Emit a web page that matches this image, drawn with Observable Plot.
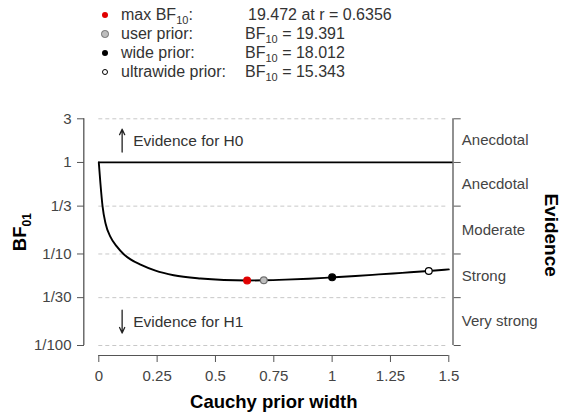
<!DOCTYPE html>
<html><head><meta charset="utf-8">
<script src="https://cdn.jsdelivr.net/npm/d3@7"></script>
<script src="https://cdn.jsdelivr.net/npm/@observablehq/plot@0.6"></script>
<style>
body{margin:0;background:#fff;font-family:"Liberation Sans",Arial,sans-serif;}
#legend{position:relative;width:564px;height:90px;color:#333;font-size:16px;}
#legend .row{position:absolute;left:0;height:20px;width:564px;}
#legend .dot{position:absolute;border-radius:50%;box-sizing:border-box;}
#legend .lab{position:absolute;left:121px;top:0;line-height:20px;white-space:nowrap;}
#legend .val{position:absolute;left:246px;top:0;line-height:20px;white-space:nowrap;}
#legend sub{font-size:11px;vertical-align:-4px;line-height:0;}
</style>
</head><body>
<div id="legend"></div>
<div id="chart"></div>
<script>
// Robustness curve (Cauchy prior width r vs BF01)
const priorWidth = [0, 0.007, 0.016, 0.029, 0.05, 0.076, 0.107, 0.136, 0.179, 0.243, 0.321, 0.436, 0.536, 0.6356, 0.7071, 0.8, 0.9, 1.0, 1.1, 1.2, 1.3, 1.4142, 1.5];
const bf01 = [1, 0.589, 0.333, 0.2154, 0.1538, 0.1217, 0.0995, 0.0873, 0.0764, 0.0657, 0.0586, 0.054, 0.052, 0.05136, 0.05157, 0.0524, 0.0537, 0.05552, 0.0575, 0.0598, 0.0622, 0.06518, 0.0678];

// Highlighted priors
const keyNames = ["max BF10:", "user prior:", "wide prior:", "ultrawide prior:"];
const keyR = [0.6356, 0.7071, 1, 1.4142];
const keyBF10 = [19.472, 19.391, 18.012, 15.343];
const keyText = ["19.472 at r = 0.6356", "BF10 = 19.391", "BF10 = 18.012", "BF10 = 15.343"];
const keyFill = ["#e00000", "#bdbdbd", "#000000", "#ffffff"];
const keyStroke = ["#e00000", "#707070", "#000000", "#000000"];

// Axes
const xTicks = [0, 0.25, 0.5, 0.75, 1, 1.25, 1.5];
const xTickLabels = ["0", "0.25", "0.5", "0.75", "1", "1.25", "1.5"];
const yTicks = [3, 1, 1/3, 1/10, 1/30, 1/100];
const yTickLabels = ["3", "1", "1/3", "1/10", "1/30", "1/100"];
const evidenceLabels = ["Anecdotal", "Anecdotal", "Moderate", "Strong", "Very strong"];
const directionLabels = ["Evidence for H0", "Evidence for H1"];

const curve = priorWidth.map((r, i) => ({r, bf01: bf01[i]}));
const keys = keyR.map((r, i) => ({r, bf01: 1 / keyBF10[i], fill: keyFill[i], stroke: keyStroke[i]}));
const evidence = evidenceLabels.map((label, i) => ({label, y: Math.sqrt(yTicks[i] * yTicks[i + 1])}));
// direction notes sit at the middle of the outer bands
const notes = [
  {label: directionLabels[0], y: Math.sqrt(yTicks[0] * yTicks[1]), dir: 1},
  {label: directionLabels[1], y: Math.sqrt(yTicks[4] * yTicks[5]), dir: -1}
];
const noteX = 0.1;
const arrowHalf = 0.125; // decades
const arrows = notes.map(n => ({x: noteX, y1: n.y / Math.pow(10, n.dir * arrowHalf), y2: n.y * Math.pow(10, n.dir * arrowHalf)}));
const xStart = xTicks[0];
const xEnd = xTicks[xTicks.length - 1];
const leftAxisOffset = 14.5; // px left of the frame

const fmtX = d => xTickLabels[xTicks.findIndex(t => Math.abs(t - d) < 1e-9)];
const fmtY = d => yTickLabels[yTicks.findIndex(t => Math.abs(t - d) / t < 1e-6)];

// Legend
const legend = d3.select("#legend");
const rowY = [5, 24, 43, 62];
const dotSize = [6.5, 7.5, 6.5, 6.5];
keyNames.forEach((name, i) => {
  const row = legend.append("div").attr("class", "row").style("top", rowY[i] + "px");
  const s = dotSize[i];
  row.append("div").attr("class", "dot")
    .style("left", (105 - s / 2) + "px").style("top", (10 - s / 2) + "px")
    .style("width", s + "px").style("height", s + "px")
    .style("background", keyFill[i])
    .style("border", (i === 0 || i === 2 ? 0 : 1.2) + "px solid " + keyStroke[i]);
  row.append("div").attr("class", "lab").html(name.replace("BF10", "BF<sub>10</sub>"));
  row.append("div").attr("class", "val").style("left", (i === 0 ? 248 : 245) + "px")
    .html(keyText[i].replace("BF10", "BF<sub>10</sub>"));
});

const axisColor = "#555";
const plot = Plot.plot({
  width: 564,
  height: 329,
  marginLeft: 98.3,
  marginRight: 115.7,
  marginTop: 28.3,
  marginBottom: 74,
  style: {fontFamily: "'Liberation Sans', Arial, sans-serif", fontSize: "15px", color: "#444", background: "#fff", overflow: "visible"},
  x: {domain: [xStart, xEnd]},
  y: {type: "log", domain: [yTicks[5], yTicks[0]]},
  color: {type: "identity"},
  marks: [
    Plot.ruleY(yTicks, {stroke: "#c8c8c8", strokeDasharray: "4,3", strokeWidth: 1}),
    Plot.ruleY([yTicks[1]], {stroke: "#000", strokeWidth: 1.7, insetRight: -4.4}),
    // left axis ticks + labels
    Plot.axisY({anchor: "left", ticks: yTicks, tickFormat: fmtY, tickSize: 7, tickPadding: 6, dx: -14.3, stroke: axisColor, fill: "#444", fontSize: 15, label: null}),
    // right axis
    Plot.tickX([xEnd], {dx: 4.2, stroke: axisColor, strokeWidth: 1.3}),
    Plot.axisY({anchor: "right", ticks: yTicks, tickFormat: () => "", tickSize: 7, dx: 4.4, stroke: axisColor, label: null}),
    Plot.text(evidence, {y: "y", text: "label", frameAnchor: "right", dx: 13, textAnchor: "start", fill: "#444", fontSize: 15}),
    // bottom axis
    Plot.ruleY([{y: yTicks[5], x1: xStart, x2: xEnd}], {y: "y", x1: "x1", x2: "x2", dy: 10, stroke: axisColor, strokeWidth: 1.2}),
    Plot.axisX({anchor: "bottom", ticks: xTicks, tickFormat: fmtX, tickSize: 7, tickPadding: 8, dy: 10, stroke: axisColor, fill: "#444", fontSize: 15, label: null}),
    // titles
    Plot.text(["Cauchy prior width"], {frameAnchor: "bottom", textAnchor: "middle", lineAnchor: "middle", dy: 57, fontWeight: "bold", fontSize: 18.5, fill: "#000"}),
    Plot.text(["BF01"], {frameAnchor: "left", textAnchor: "middle", lineAnchor: "middle", dx: -79, dy: 0, rotate: -90, fontWeight: "bold", fontSize: 18.5, fill: "#000"}),
    Plot.text(["Evidence"], {frameAnchor: "right", textAnchor: "middle", lineAnchor: "middle", dx: 102, dy: 3, rotate: 90, fontWeight: "bold", fontSize: 19, fill: "#000"}),
    // direction notes
    Plot.arrow(arrows, {x1: "x", x2: "x", y1: "y1", y2: "y2", stroke: "#222", strokeWidth: 1.3, headLength: 7, headAngle: 50}),
    Plot.text(notes, {x: noteX, y: "y", text: "label", dx: 11, textAnchor: "start", fill: "#333", fontSize: 15.5}),
    // curve and highlighted priors
    Plot.line(curve, {x: "r", y: "bf01", stroke: "#000", strokeWidth: 1.9, curve: "monotone-x"}),
    Plot.dot(keys, {x: "r", y: "bf01", fill: "fill", stroke: "stroke", r: 3.4, strokeWidth: 1.2})
  ]
});
// left axis line, placed with the plot's own scales
{
  const sx = plot.scale("x"), sy = plot.scale("y");
  const lx = sx.apply(xStart) - leftAxisOffset;
  d3.select(plot).append("line")
    .attr("x1", lx).attr("x2", lx)
    .attr("y1", sy.apply(yTicks[5])).attr("y2", sy.apply(yTicks[0]))
    .attr("stroke", axisColor).attr("stroke-width", 1.3);
}
// subscript in BF01
plot.querySelectorAll("text").forEach(t => {
  if (t.textContent === "BF01") {
    t.textContent = "";
    const ns = "http://www.w3.org/2000/svg";
    const a = document.createElementNS(ns, "tspan"); a.textContent = "BF";
    const b = document.createElementNS(ns, "tspan"); b.textContent = "01";
    b.setAttribute("font-size", "12"); b.setAttribute("dy", "5");
    t.appendChild(a); t.appendChild(b);
  }
});
document.getElementById("chart").appendChild(plot);
</script>
</body></html>
